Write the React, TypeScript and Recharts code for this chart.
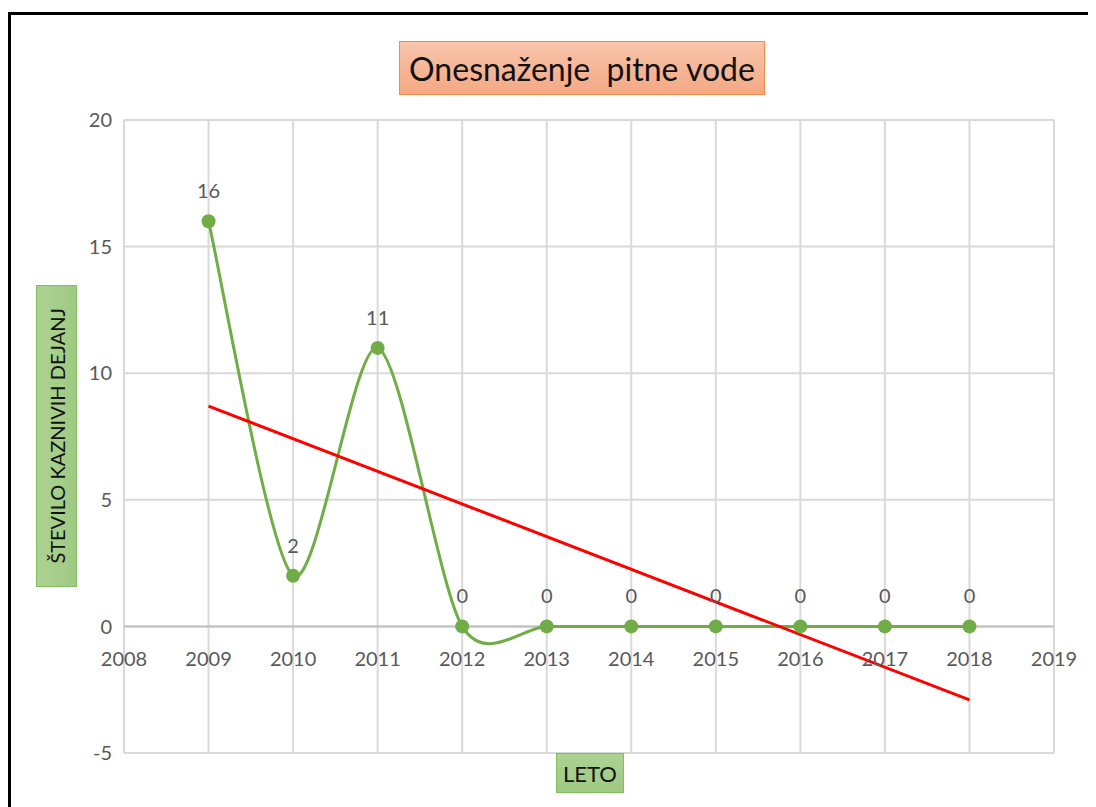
import React from "react";
import {
  ComposedChart,
  Line,
  XAxis,
  YAxis,
  CartesianGrid,
  ReferenceLine,
  LabelList,
} from "recharts";

const YEARS = [2009, 2010, 2011, 2012, 2013, 2014, 2015, 2016, 2017, 2018];
const OFFENCES = [16, 2, 11, 0, 0, 0, 0, 0, 0, 0];
const TREND_YEARS = [2009, 2018];
const TREND_VALUES = [8.7, -2.9];
const X_TICKS = [2008, 2009, 2010, 2011, 2012, 2013, 2014, 2015, 2016, 2017, 2018, 2019];
const Y_TICKS = [-5, 0, 5, 10, 15, 20];

const data = YEARS.map((year, i) => ({ year, value: OFFENCES[i] }));
const trend = TREND_YEARS.map((year, i) => ({ year, trend: TREND_VALUES[i] }));

const W = 1088;
const H = 799;
const TOP = 112;
const BOTTOM = 54;
const PLOT_H = H - TOP - BOTTOM;
const ZERO_Y = TOP + (PLOT_H * 20) / 25;

const FONT = "Lato, 'Open Sans', sans-serif";
const GRAY = "#595959";
const SMOOTH = 0.14;

// excel-like smoothed line (catmull-rom style bezier through the points)
function excelSmooth(context: any) {
  let xs: number[] = [];
  let ys: number[] = [];
  return {
    areaStart() {},
    areaEnd() {},
    lineStart() {
      xs = [];
      ys = [];
    },
    point(x: number, y: number) {
      xs.push(+x);
      ys.push(+y);
    },
    lineEnd() {
      const n = xs.length;
      if (!n) return;
      context.moveTo(xs[0], ys[0]);
      for (let i = 0; i < n - 1; i++) {
        const p0 = Math.max(i - 1, 0);
        const p3 = Math.min(i + 2, n - 1);
        const c1x = xs[i] + (xs[i + 1] - xs[p0]) * SMOOTH;
        const c1y = ys[i] + (ys[i + 1] - ys[p0]) * SMOOTH;
        const c2x = xs[i + 1] - (xs[p3] - xs[i]) * SMOOTH;
        const c2y = ys[i + 1] - (ys[p3] - ys[i]) * SMOOTH;
        context.bezierCurveTo(c1x, c1y, c2x, c2y, xs[i + 1], ys[i + 1]);
      }
    },
  };
}

const XTick = ({ x, payload }: any) => (
  <text
    x={x}
    y={ZERO_Y + 32}
    textAnchor="middle"
    dominantBaseline="central"
    fill={GRAY}
    fontSize={20}
    fontFamily={FONT}
  >
    {payload.value}
  </text>
);

const boxText: React.CSSProperties = {
  position: "absolute",
  display: "flex",
  alignItems: "center",
  justifyContent: "center",
  boxSizing: "border-box",
  fontFamily: FONT,
  color: "#111",
};

export default function App() {
  return (
    <div style={{ position: "relative", width: W, height: H, overflow: "hidden", background: "#fff" }}>
      <div
        style={{
          position: "absolute",
          left: 0,
          top: 4,
          width: 1200,
          height: 1000,
          border: "3px solid #000",
        }}
      />
      <ComposedChart
        width={W}
        height={H}
        margin={{ top: TOP, right: 42, left: 0, bottom: 0 }}
        style={{ position: "absolute", left: 0, top: 0 }}
      >
        <CartesianGrid stroke="#d9d9d9" strokeWidth={2} />
        <XAxis
          type="number"
          dataKey="year"
          domain={[2008, 2019]}
          ticks={X_TICKS}
          axisLine={false}
          tickLine={false}
          height={BOTTOM}
          tick={<XTick />}
          allowDuplicatedCategory={false}
        />
        <YAxis
          type="number"
          domain={[-5, 20]}
          ticks={Y_TICKS}
          width={116}
          axisLine={false}
          tickLine={false}
          tickSize={0}
          tickMargin={12}
          tick={{ fill: GRAY, fontSize: 20, fontFamily: FONT }}
        />
        <ReferenceLine y={0} stroke="#bfbfbf" strokeWidth={2} />
        <Line
          data={data}
          dataKey="value"
          type={excelSmooth as any}
          stroke="#70ad47"
          strokeWidth={3}
          dot={{ r: 7, fill: "#70ad47", stroke: "#70ad47", strokeWidth: 0 }}
          isAnimationActive={false}
        >
          <LabelList
            dataKey="value"
            position="top"
            offset={23}
            fill={GRAY}
            fontSize={20}
            fontFamily={FONT}
          />
        </Line>
        <Line
          data={trend}
          dataKey="trend"
          type="linear"
          stroke="#ff0000"
          strokeWidth={3}
          dot={false}
          isAnimationActive={false}
        />
      </ComposedChart>
      <div
        style={{
          ...boxText,
          left: 391,
          top: 33,
          width: 366,
          height: 54,
          border: "1.5px solid #f08c45",
          background: "linear-gradient(#f8c5ac, #f4a883)",
          fontSize: 32,
          whiteSpace: "pre",
        }}
      >
        {"Onesnaženje  pitne vode"}
      </div>
      <div
        style={{
          ...boxText,
          left: 28,
          top: 277,
          width: 41,
          height: 302,
          border: "1px solid #82bd5e",
          background: "linear-gradient(90deg, #acd293, #9fca82)",
          fontSize: 20,
        }}
      >
        <span style={{ writingMode: "vertical-rl", transform: "rotate(180deg)", whiteSpace: "nowrap" }}>
          ŠTEVILO KAZNIVIH DEJANJ
        </span>
      </div>
      <div
        style={{
          ...boxText,
          left: 548,
          top: 745,
          width: 68,
          height: 40,
          border: "1px solid #82bd5e",
          background: "linear-gradient(#acd293, #9fca82)",
          fontSize: 22,
        }}
      >
        LETO
      </div>
    </div>
  );
}
